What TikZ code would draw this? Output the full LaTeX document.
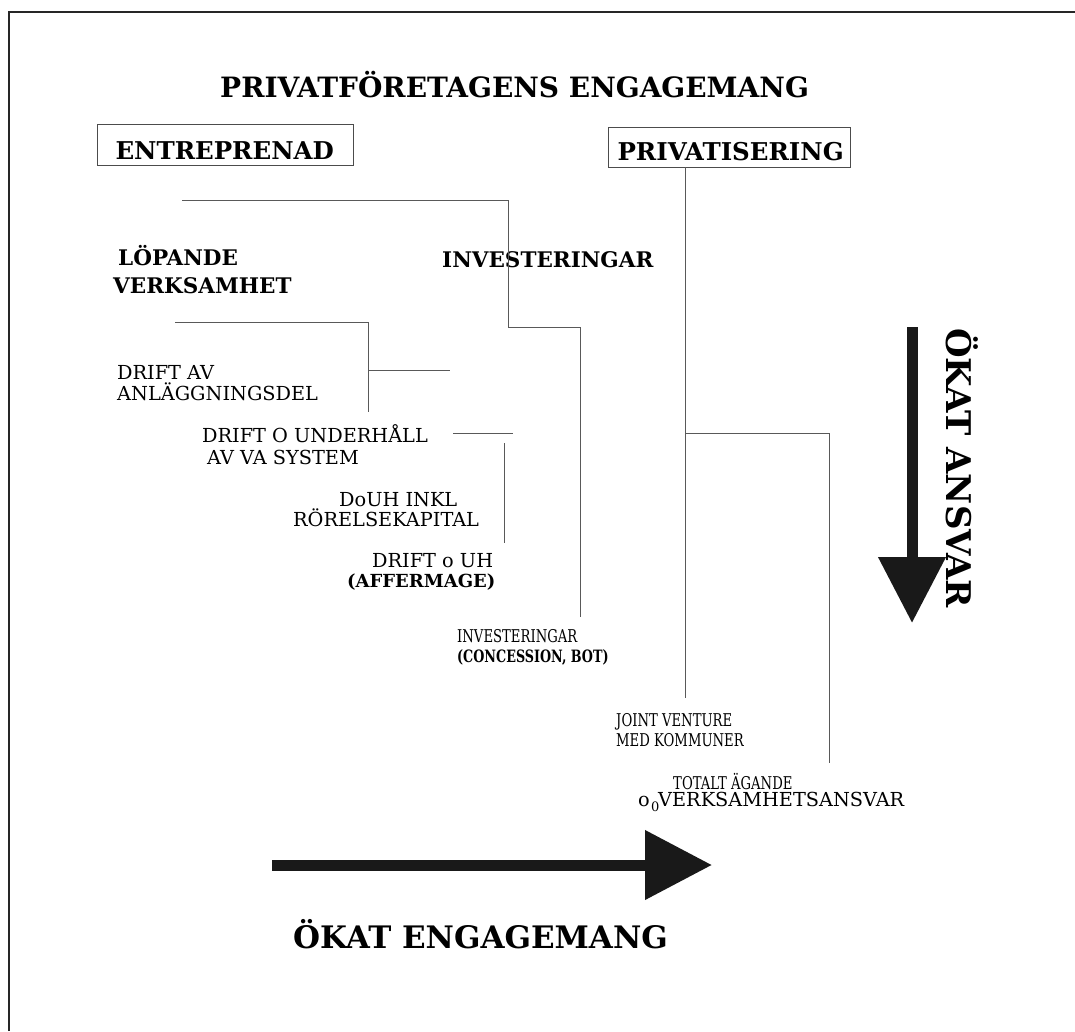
\documentclass[tikz,border=0pt]{standalone}
\usepackage{fontspec}
\setmainfont{DejaVu Serif}
\newfontfamily\condfont[FakeStretch=0.75]{DejaVu Serif}
\usetikzlibrary{arrows.meta}
\begin{document}
\begin{tikzpicture}[x=1pt,y=-1pt,
  lbl/.style={inner sep=0pt, anchor=base west, text=black},
  hd/.style={lbl, font=\bfseries\fontsize{#1}{#1}\selectfont},
  rg/.style={lbl, font=\fontsize{19.3}{19.3}\selectfont},
  cd/.style={lbl, font=\condfont\fontsize{17.6}{17.6}\selectfont},
  cdb/.style={lbl, font=\condfont\bfseries\fontsize{17}{17}\selectfont},
  boxnode/.style={draw=black!70, line width=1pt, text=black,
    font=\bfseries\fontsize{24.5}{24.5}\selectfont, anchor=base west,
    align=left, inner ysep=3pt},
  ln/.style={draw=black!65, line width=0.9pt},
  bigarrow/.style={line width=11pt, draw=black!90, fill=black!90}
]
\useasboundingbox (0,0) rectangle (1075,1031);
% frame
\draw[line width=2pt, black!85] (9,1031) -- (9,12) -- (1075,12);

% title
\node[hd=28] (title) at (220,97) {PRIVATFÖRETAGENS ENGAGEMANG};

% boxes
\node[boxnode, inner xsep=18pt, text width=220pt, text height=32pt, text depth=3pt] (entr) at (97,159) {ENTREPRENAD};
\node[boxnode, inner xsep=9pt, text width=224pt, text height=30pt, text depth=4pt] (priv) at (608,160) {PRIVATISERING};

% headings
\node[hd=21.5] (lop1) at (118,265) {LÖPANDE};
\node[hd=21.5] (lop2) at (113,293) {VERKSAMHET};
\node[hd=21.5] (inv) at (442,267) {INVESTERINGAR};

% regular labels
\node[rg] (dav1) at (117,379) {DRIFT AV};
\node[rg] (dav2) at (117,400) {ANLÄGGNINGSDEL};
\node[rg] (dou1) at (202,442) {DRIFT O UNDERHÅLL};
\node[rg] (dou2) at (207,464) {AV VA SYSTEM};
\node[rg] (douh1) at (339,506) {DoUH INKL};
\node[rg] (douh2) at (293,526) {RÖRELSEKAPITAL};
\node[rg] (aff1) at (372,567) {DRIFT o UH};
\node[hd=18] (aff2) at (347,587) {(AFFERMAGE)};

% condensed labels
\node[cd] (con1) at (457,642) {INVESTERINGAR};
\node[cdb] (con2) at (457,662) {(CONCESSION, BOT)};
\node[cd] (jv1) at (616,726) {JOINT VENTURE};
\node[cd] (jv2) at (616,746) {MED KOMMUNER};
\node[cd] (tot1) at (673,789) {TOTALT ÄGANDE};
\node[rg] (tot0) at (638,806) {o};
\node[lbl, font=\fontsize{13}{13}\selectfont] (totsub) at (651,811) {0};
\node[rg] (tot2) at (658,806) {VERKSAMHETSANSVAR};

% connectors
\coordinate (a1) at (182,200);
\coordinate (a2) at (508,200);
\coordinate (a3) at (508,327);
\coordinate (a4) at (580,327);
\coordinate (a5) at (580,617);
\draw[ln] (a1) -- (a2) -- (a3) -- (a4) -- (a5);

\coordinate (b1) at (175,322);
\coordinate (b2) at (368,322);
\coordinate (b3) at (368,412);
\draw[ln] (b1) -- (b2) -- (b3);
\coordinate (c1) at (368,370);
\coordinate (c2) at (450,370);
\draw[ln] (c1) -- (c2);
\coordinate (d1) at (453,433);
\coordinate (d2) at (513,433);
\draw[ln] (d1) -- (d2);
\coordinate (e1) at (504,443);
\coordinate (e2) at (504,543);
\draw[ln] (e1) -- (e2);

\coordinate (p1) at (685,167);
\coordinate (p2) at (685,698);
\draw[ln] (p1) -- (p2);
\coordinate (q1) at (685,433);
\coordinate (q2) at (829,433);
\coordinate (q3) at (829,763);
\draw[ln] (q1) -- (q2) -- (q3);

% big arrows
\coordinate (ra1) at (272,865);
\coordinate (ra2) at (712,865);
\draw[bigarrow, -{Triangle[length=67pt,width=67pt]}] (ra1) -- (ra2);
\coordinate (da1) at (912,327);
\coordinate (da2) at (912,623);
\draw[bigarrow, -{Triangle[length=66pt,width=65pt]}] (da1) -- (da2);

\node[hd=31] (okeng) at (293,948) {ÖKAT ENGAGEMANG};
\node[hd=34, rotate=-90] (okans) at (946,328) {ÖKAT ANSVAR};
\end{tikzpicture}
\end{document}
